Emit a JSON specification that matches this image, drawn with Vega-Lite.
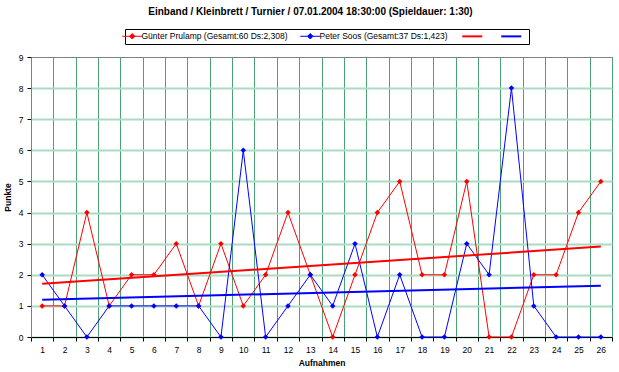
{
  "$schema": "https://vega.github.io/schema/vega-lite/v6.json",
  "width": 581,
  "height": 280,
  "autosize": {"type": "none"},
  "padding": {"left": 31, "top": 57, "right": 7, "bottom": 35},
  "background": "white",
  "config": {
    "font": "Liberation Sans",
    "view": {"stroke": "#808080", "strokeWidth": 1},
    "axis": {"labelFont": "Liberation Sans", "titleFont": "Liberation Sans", "labelColor": "#000", "titleColor": "#000"}
  },
  "title": {
    "text": "Einband / Kleinbrett / Turnier / 07.01.2004 18:30:00 (Spieldauer: 1:30)",
    "fontSize": 10,
    "fontWeight": "bold",
    "font": "Liberation Sans",
    "color": "#000",
    "anchor": "middle",
    "frame": "group",
    "dx": -11,
    "offset": 12
  },
  "datasets": {
    "punkte": [
      {"Aufnahme": 1, "Spieler": "Günter Prulamp (Gesamt:60 Ds:2,308)", "Punkte": 1},
      {"Aufnahme": 2, "Spieler": "Günter Prulamp (Gesamt:60 Ds:2,308)", "Punkte": 1},
      {"Aufnahme": 3, "Spieler": "Günter Prulamp (Gesamt:60 Ds:2,308)", "Punkte": 4},
      {"Aufnahme": 4, "Spieler": "Günter Prulamp (Gesamt:60 Ds:2,308)", "Punkte": 1},
      {"Aufnahme": 5, "Spieler": "Günter Prulamp (Gesamt:60 Ds:2,308)", "Punkte": 2},
      {"Aufnahme": 6, "Spieler": "Günter Prulamp (Gesamt:60 Ds:2,308)", "Punkte": 2},
      {"Aufnahme": 7, "Spieler": "Günter Prulamp (Gesamt:60 Ds:2,308)", "Punkte": 3},
      {"Aufnahme": 8, "Spieler": "Günter Prulamp (Gesamt:60 Ds:2,308)", "Punkte": 1},
      {"Aufnahme": 9, "Spieler": "Günter Prulamp (Gesamt:60 Ds:2,308)", "Punkte": 3},
      {"Aufnahme": 10, "Spieler": "Günter Prulamp (Gesamt:60 Ds:2,308)", "Punkte": 1},
      {"Aufnahme": 11, "Spieler": "Günter Prulamp (Gesamt:60 Ds:2,308)", "Punkte": 2},
      {"Aufnahme": 12, "Spieler": "Günter Prulamp (Gesamt:60 Ds:2,308)", "Punkte": 4},
      {"Aufnahme": 13, "Spieler": "Günter Prulamp (Gesamt:60 Ds:2,308)", "Punkte": 2},
      {"Aufnahme": 14, "Spieler": "Günter Prulamp (Gesamt:60 Ds:2,308)", "Punkte": 0},
      {"Aufnahme": 15, "Spieler": "Günter Prulamp (Gesamt:60 Ds:2,308)", "Punkte": 2},
      {"Aufnahme": 16, "Spieler": "Günter Prulamp (Gesamt:60 Ds:2,308)", "Punkte": 4},
      {"Aufnahme": 17, "Spieler": "Günter Prulamp (Gesamt:60 Ds:2,308)", "Punkte": 5},
      {"Aufnahme": 18, "Spieler": "Günter Prulamp (Gesamt:60 Ds:2,308)", "Punkte": 2},
      {"Aufnahme": 19, "Spieler": "Günter Prulamp (Gesamt:60 Ds:2,308)", "Punkte": 2},
      {"Aufnahme": 20, "Spieler": "Günter Prulamp (Gesamt:60 Ds:2,308)", "Punkte": 5},
      {"Aufnahme": 21, "Spieler": "Günter Prulamp (Gesamt:60 Ds:2,308)", "Punkte": 0},
      {"Aufnahme": 22, "Spieler": "Günter Prulamp (Gesamt:60 Ds:2,308)", "Punkte": 0},
      {"Aufnahme": 23, "Spieler": "Günter Prulamp (Gesamt:60 Ds:2,308)", "Punkte": 2},
      {"Aufnahme": 24, "Spieler": "Günter Prulamp (Gesamt:60 Ds:2,308)", "Punkte": 2},
      {"Aufnahme": 25, "Spieler": "Günter Prulamp (Gesamt:60 Ds:2,308)", "Punkte": 4},
      {"Aufnahme": 26, "Spieler": "Günter Prulamp (Gesamt:60 Ds:2,308)", "Punkte": 5},
      {"Aufnahme": 1, "Spieler": "Peter Soos (Gesamt:37 Ds:1,423)", "Punkte": 2},
      {"Aufnahme": 2, "Spieler": "Peter Soos (Gesamt:37 Ds:1,423)", "Punkte": 1},
      {"Aufnahme": 3, "Spieler": "Peter Soos (Gesamt:37 Ds:1,423)", "Punkte": 0},
      {"Aufnahme": 4, "Spieler": "Peter Soos (Gesamt:37 Ds:1,423)", "Punkte": 1},
      {"Aufnahme": 5, "Spieler": "Peter Soos (Gesamt:37 Ds:1,423)", "Punkte": 1},
      {"Aufnahme": 6, "Spieler": "Peter Soos (Gesamt:37 Ds:1,423)", "Punkte": 1},
      {"Aufnahme": 7, "Spieler": "Peter Soos (Gesamt:37 Ds:1,423)", "Punkte": 1},
      {"Aufnahme": 8, "Spieler": "Peter Soos (Gesamt:37 Ds:1,423)", "Punkte": 1},
      {"Aufnahme": 9, "Spieler": "Peter Soos (Gesamt:37 Ds:1,423)", "Punkte": 0},
      {"Aufnahme": 10, "Spieler": "Peter Soos (Gesamt:37 Ds:1,423)", "Punkte": 6},
      {"Aufnahme": 11, "Spieler": "Peter Soos (Gesamt:37 Ds:1,423)", "Punkte": 0},
      {"Aufnahme": 12, "Spieler": "Peter Soos (Gesamt:37 Ds:1,423)", "Punkte": 1},
      {"Aufnahme": 13, "Spieler": "Peter Soos (Gesamt:37 Ds:1,423)", "Punkte": 2},
      {"Aufnahme": 14, "Spieler": "Peter Soos (Gesamt:37 Ds:1,423)", "Punkte": 1},
      {"Aufnahme": 15, "Spieler": "Peter Soos (Gesamt:37 Ds:1,423)", "Punkte": 3},
      {"Aufnahme": 16, "Spieler": "Peter Soos (Gesamt:37 Ds:1,423)", "Punkte": 0},
      {"Aufnahme": 17, "Spieler": "Peter Soos (Gesamt:37 Ds:1,423)", "Punkte": 2},
      {"Aufnahme": 18, "Spieler": "Peter Soos (Gesamt:37 Ds:1,423)", "Punkte": 0},
      {"Aufnahme": 19, "Spieler": "Peter Soos (Gesamt:37 Ds:1,423)", "Punkte": 0},
      {"Aufnahme": 20, "Spieler": "Peter Soos (Gesamt:37 Ds:1,423)", "Punkte": 3},
      {"Aufnahme": 21, "Spieler": "Peter Soos (Gesamt:37 Ds:1,423)", "Punkte": 2},
      {"Aufnahme": 22, "Spieler": "Peter Soos (Gesamt:37 Ds:1,423)", "Punkte": 8},
      {"Aufnahme": 23, "Spieler": "Peter Soos (Gesamt:37 Ds:1,423)", "Punkte": 1},
      {"Aufnahme": 24, "Spieler": "Peter Soos (Gesamt:37 Ds:1,423)", "Punkte": 0},
      {"Aufnahme": 25, "Spieler": "Peter Soos (Gesamt:37 Ds:1,423)", "Punkte": 0},
      {"Aufnahme": 26, "Spieler": "Peter Soos (Gesamt:37 Ds:1,423)", "Punkte": 0}
    ],
    "trend": [
      {"Aufnahme": 1, "Spieler": "Trend Günter", "Punkte": 1.709},
      {"Aufnahme": 26, "Spieler": "Trend Günter", "Punkte": 2.906},
      {"Aufnahme": 1, "Spieler": "Trend Peter", "Punkte": 1.197},
      {"Aufnahme": 26, "Spieler": "Trend Peter", "Punkte": 1.650}
    ]
  },
  "encoding": {
    "x": {
      "field": "Aufnahme",
      "type": "ordinal",
      "scale": {"type": "band", "domain": [1,2,3,4,5,6,7,8,9,10,11,12,13,14,15,16,17,18,19,20,21,22,23,24,25,26], "paddingInner": 0, "paddingOuter": 0},
      "axis": {
        "title": "Aufnahmen",
        "titleFontSize": 8.5,
        "titleFontWeight": "bold",
        "titlePadding": 5,
        "labelFontSize": 8.5,
        "labelAngle": 0,
        "labelPadding": 4,
        "tickBand": "extent",
        "tickSize": 4,
        "tickColor": "#000",
        "domainColor": "#000",
        "grid": true,
        "gridColor": "#4aa374",
        "gridWidth": 1
      }
    },
    "y": {
      "field": "Punkte",
      "type": "quantitative",
      "scale": {"domain": [0, 9], "nice": false, "zero": true},
      "axis": {
        "title": "Punkte",
        "titleFontSize": 8.5,
        "titleFontWeight": "bold",
        "titlePadding": 6,
        "labelFontSize": 8.5,
        "labelPadding": 4,
        "values": [0,1,2,3,4,5,6,7,8,9],
        "tickSize": 4,
        "tickColor": "#000",
        "domainColor": "#808080",
        "grid": true,
        "gridColor": {"condition": {"test": "datum.value === 9", "value": "#808080"}, "value": "#a9dcc2"},
        "gridWidth": {"condition": {"test": "datum.value === 9", "value": 1}, "value": 2}
      }
    },
    "color": {
      "field": "Spieler",
      "type": "nominal",
      "scale": {
        "domain": ["Günter Prulamp (Gesamt:60 Ds:2,308)", "Peter Soos (Gesamt:37 Ds:1,423)", "Trend Günter", "Trend Peter"],
        "range": ["#ff0000", "#0000ff", "#ff0000", "#0000ff"]
      },
      "legend": {
        "orient": "none",
        "legendX": 94,
        "legendY": -28,
        "direction": "horizontal",
        "columns": 4,
        "title": null,
        "strokeColor": "#000",
        "fillColor": "#fff",
        "padding": 3,
        "labelFont": "Liberation Sans",
        "labelFontSize": 8.5,
        "labelColor": "#000",
        "labelOffset": 5,
        "columnPadding": 10,
        "symbolSize": 400,
        "symbolStrokeWidth": 1,
        "labelExpr": "indexof(datum.label, 'Trend') === 0 ? '' : datum.label",
        "encode": {
          "symbols": {
            "update": {
              "shape": {"signal": "datum.index < 2 ? 'M-1,0H1M0,-0.27L0.27,0L0,0.27L-0.27,0Z' : 'stroke'"},
              "strokeWidth": {"signal": "datum.index < 2 ? 1 : 2"},
              "fill": {"signal": "datum.index < 2 ? scale('color', datum.value) : 'transparent'"},
              "stroke": {"signal": "scale('color', datum.value)"}
            }
          }
        }
      }
    }
  },
  "layer": [
    {"data": {"name": "punkte"}, "mark": {"type": "line", "strokeWidth": 1}},
    {"data": {"name": "punkte"}, "mark": {"type": "point", "shape": "diamond", "filled": true, "size": 30, "opacity": 1}},
    {"data": {"name": "trend"}, "mark": {"type": "line", "strokeWidth": 2}}
  ]
}
